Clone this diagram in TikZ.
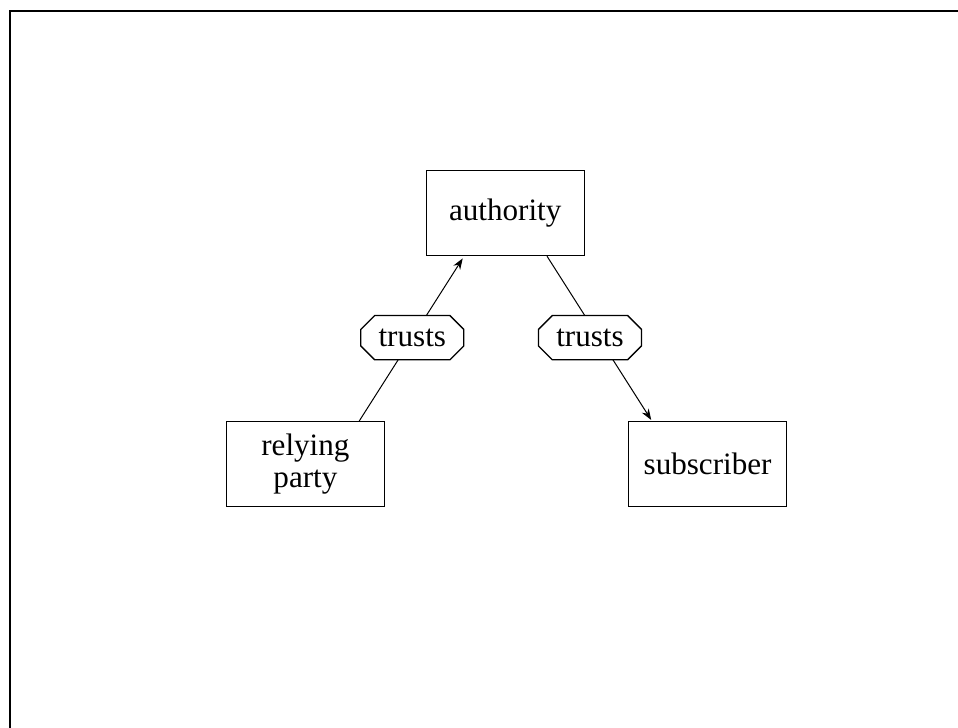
\documentclass[tikz,border=0pt]{standalone}
\usepackage{fontspec}
\setmainfont{Liberation Serif}
\usetikzlibrary{shapes.misc,arrows.meta}

\begin{document}
\begin{tikzpicture}[box/.style={draw,line width=0.6pt,minimum width=2.5cm,minimum height=1.34cm,align=center,font=\fontsize{14}{14.6}\selectfont},
   trustbox/.style={draw,chamfered rectangle,chamfered rectangle xsep=0.11cm,chamfered rectangle ysep=0.11cm,fill=white,line width=0.6pt,minimum width=1.63cm,minimum height=0.7cm,inner sep=1pt,font=\fontsize{14}{14.6}\selectfont},
   link/.style={line width=0.45pt,-{Stealth[length=5pt,width=3.6pt]}}]
   \useasboundingbox (0,0) rectangle (15.15,11.51);
   \draw[line width=0.9pt] (0.16,0) -- (0.16,11.34) -- (15.15,11.34);
   \node[box] (authority) at (7.99,8.14) {authority};
   \node[box] (relying) at (4.83,4.17) {relying\\party};
   \node[box] (subscriber) at (11.19,4.17) {subscriber};
   \draw[link,shorten >=1.2pt] ([xshift=0.85cm]relying.north) -- ([xshift=-0.65cm]authority.south);
   \draw[link,shorten >=0.6pt] ([xshift=0.66cm]authority.south) -- ([xshift=-0.88cm]subscriber.north);
   \node[trustbox] (trustsL) at (6.52,6.17) {trusts};
   \node[trustbox] (trustsR) at (9.33,6.17) {trusts};
\end{tikzpicture}
\end{document}
